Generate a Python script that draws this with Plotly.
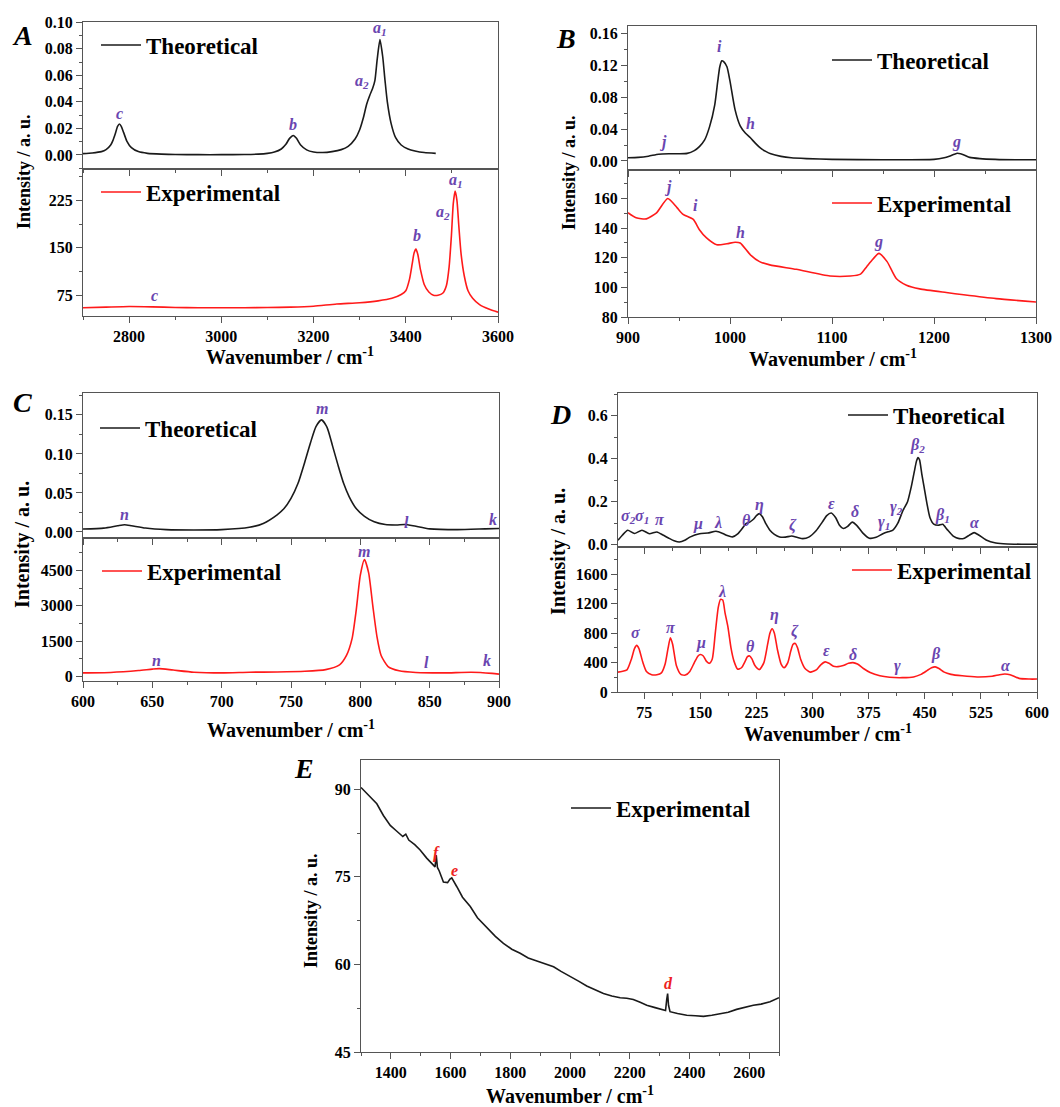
import plotly.graph_objects as go

# ---------------- DATA ----------------
A_theo_x = [2700, 2720, 2740, 2750, 2760, 2765, 2770, 2775, 2779, 2783, 2788, 2795, 2805, 2820, 2840, 2870, 2900, 2950, 3000,
            3050, 3080, 3100, 3115, 3130, 3140, 3148, 3156, 3163, 3172, 3185, 3200, 3220, 3240, 3260, 3275, 3290, 3300,
            3308, 3315, 3322, 3328, 3333, 3338, 3344, 3350, 3355, 3360, 3368, 3378, 3390, 3405, 3420, 3440, 3465]
A_theo_y = [0.001, 0.0015, 0.0025, 0.004, 0.0075, 0.011, 0.016, 0.0215, 0.0233, 0.0215, 0.017, 0.0105, 0.0055, 0.0025,
            0.0012, 0.0006, 0.0003, 0.0002, 0.0002, 0.0003, 0.0006, 0.0012, 0.0022, 0.0045, 0.008, 0.0125, 0.0147, 0.0125,
            0.0075, 0.0038, 0.0022, 0.0018, 0.0025, 0.004, 0.0065, 0.012, 0.019, 0.028, 0.038, 0.045, 0.05, 0.056, 0.072,
            0.0869, 0.074, 0.056, 0.04, 0.024, 0.013, 0.0075, 0.0045, 0.003, 0.0018, 0.0012]
A_exp_x = [2700, 2750, 2800, 2850, 2900, 2950, 3000, 3050, 3100, 3150, 3200, 3250, 3300, 3340, 3370, 3390, 3400, 3408, 3414,
           3418, 3422, 3426, 3432, 3440, 3450, 3460, 3470, 3480, 3488, 3494, 3499, 3503, 3507, 3511, 3515, 3520, 3527,
           3535, 3545, 3560, 3580, 3600]
A_exp_y = [55, 56, 57, 56.5, 55.5, 55, 55, 55, 55.5, 56, 57.5, 61, 63, 66, 70, 76, 82, 100, 125, 142, 148, 140, 115, 92, 80,
           75, 75, 78, 90, 120, 170, 220, 240, 225, 185, 140, 105, 82, 70, 60, 53, 48]
A_theo_lab = ["c", "b", "a<sub>2</sub>", "a<sub>1</sub>"]
A_theo_lab_x = [2779, 3156, 3304, 3344]
A_theo_lab_y = [0.031, 0.0228, 0.0557, 0.095]
A_exp_lab = ["c", "b", "a<sub>2</sub>", "a<sub>1</sub>"]
A_exp_lab_x = [2856, 3424, 3481, 3509]
A_exp_lab_y = [74, 169.6, 206.8, 257]

B_theo_x = [900, 910, 920, 930, 940, 950, 958, 965, 970, 975, 980, 985, 988, 990, 992, 994, 997, 1000, 1005, 1010, 1015,
            1020, 1025, 1030, 1035, 1040, 1050, 1060, 1075, 1100, 1150, 1200, 1210, 1215, 1220, 1223, 1226, 1230, 1235,
            1245, 1260, 1280, 1300]
B_theo_y = [0.004, 0.0045, 0.006, 0.0085, 0.009, 0.009, 0.0095, 0.013, 0.018, 0.026, 0.043, 0.07, 0.1, 0.118, 0.1255,
            0.124, 0.118, 0.1, 0.064, 0.044, 0.035, 0.029, 0.022, 0.016, 0.012, 0.009, 0.0058, 0.004, 0.003, 0.002,
            0.0015, 0.002, 0.004, 0.006, 0.0085, 0.0096, 0.009, 0.0072, 0.0045, 0.003, 0.002, 0.0015, 0.0015]
B_exp_x = [900, 908, 918, 928, 939, 948, 954, 964, 970, 977, 987, 997, 1005, 1010, 1020, 1029, 1039, 1065, 1098, 1118,
           1128, 1134, 1140, 1146, 1154, 1163, 1173, 1186, 1212, 1229, 1261, 1300]
B_exp_y = [150.4, 147, 146.3, 150.4, 160, 153.9, 149.3, 145.9, 139, 133.4, 128.8, 129.5, 130.5, 130, 122, 117.4, 115.2,
           112.2, 107.7, 107.7, 109, 114, 119, 123, 117.4, 106, 101.5, 99, 96.5, 95, 92.4, 90.1]
B_theo_lab = ["j", "i", "h", "g"]
B_theo_lab_x = [934.6, 990, 1020, 1221.6]
B_theo_lab_y = [0.0242, 0.143, 0.047, 0.024]
B_exp_lab = ["j", "i", "h", "g"]
B_exp_lab_x = [938.9, 966, 1010, 1146]
B_exp_lab_y = [167.5, 155, 136.8, 131]

C_theo_x = [600, 615, 625, 630, 635, 645, 660, 680, 700, 720, 730, 740, 745, 750, 755, 760, 764, 768, 772, 776, 780, 784,
            788, 792, 797, 803, 810, 818, 826, 832, 838, 850, 870, 890, 900]
C_theo_y = [0.0038, 0.005, 0.008, 0.0093, 0.008, 0.005, 0.003, 0.0025, 0.003, 0.006, 0.011, 0.022, 0.03, 0.043, 0.062,
            0.09, 0.114, 0.135, 0.1436, 0.134, 0.11, 0.085, 0.062, 0.045, 0.03, 0.02, 0.013, 0.0095, 0.009, 0.0095,
            0.008, 0.004, 0.003, 0.004, 0.0045]
C_exp_x = [600, 620, 640, 650, 655, 665, 680, 700, 720, 740, 760, 775, 785, 790, 794, 797, 800, 803, 806, 809, 812, 815,
           820, 828, 840, 860, 880, 895, 900]
C_exp_y = [160, 180, 260, 320, 340, 280, 190, 160, 190, 200, 230, 300, 500, 900, 1600, 2800, 4300, 4960, 4400, 3000,
           1700, 900, 430, 250, 180, 160, 190, 140, 110]
C_theo_lab = ["n", "m", "l", "k"]
C_theo_lab_x = [630, 772, 833.5, 895.5]
C_theo_lab_y = [0.022, 0.158, 0.0123, 0.0166]
C_exp_lab = ["n", "m", "l", "k"]
C_exp_lab_x = [653, 803, 847.7, 891]
C_exp_lab_y = [667, 5313, 595, 667]

D_theo_x = [40, 46, 53, 62, 72, 82, 92, 100, 109, 115, 122, 130, 136, 149, 160, 171, 180, 186, 193, 200, 206, 211, 216,
            221, 225, 229, 233, 238, 243, 249, 256, 264, 272, 280, 287, 295, 305, 313, 319, 325, 331, 336, 341, 347, 353,
            359, 367, 376, 385, 394, 401, 407, 414, 421, 427, 432, 436, 439, 441, 443, 446, 449, 453, 457, 462, 468, 474,
            480, 488, 496, 503, 510, 516, 522, 532, 545, 560, 580, 600]
D_theo_y = [0.02, 0.045, 0.067, 0.052, 0.067, 0.051, 0.059, 0.045, 0.028, 0.018, 0.012, 0.022, 0.035, 0.051, 0.054, 0.062,
            0.052, 0.042, 0.036, 0.05, 0.075, 0.098, 0.105, 0.118, 0.135, 0.1445, 0.13, 0.095, 0.067, 0.048, 0.036, 0.035,
            0.04, 0.033, 0.028, 0.035, 0.066, 0.105, 0.135, 0.147, 0.125, 0.09, 0.075, 0.085, 0.105, 0.09, 0.055, 0.03,
            0.034, 0.051, 0.06, 0.066, 0.1, 0.16, 0.2, 0.27, 0.34, 0.39, 0.406, 0.395, 0.33, 0.27, 0.19, 0.125, 0.095,
            0.09, 0.0946, 0.07, 0.04, 0.028, 0.03, 0.045, 0.056, 0.045, 0.022, 0.008, 0.003, 0.002, 0.002]
D_exp_x = [40, 45, 52, 58, 62, 65, 68, 73, 78, 85, 92, 98, 103, 107, 110, 113, 118, 124, 130, 136, 142, 147, 150, 154, 158,
           162, 166, 170, 174, 177, 180, 183, 187, 191, 195, 200, 205, 210, 213, 216, 219, 223, 229, 235, 240, 243, 246,
           249, 253, 258, 262, 267, 271, 274, 277, 280, 284, 290, 297, 305, 311, 317, 322, 328, 334, 341, 348, 354, 360,
           368, 377, 390, 403, 420, 435, 445, 453, 459, 464, 469, 476, 485, 500, 520, 540, 550, 557, 564, 576, 590, 600]
D_exp_y = [270, 280, 300, 450, 590, 634, 590, 410, 280, 235, 235, 260, 380, 600, 738, 650, 360, 240, 230, 280, 400, 490,
           510, 490, 420, 390, 450, 800, 1150, 1260, 1250, 1080, 880, 600, 420, 310, 330, 420, 480, 490, 450, 360, 305,
           400, 650, 800, 860, 800, 580, 380, 330, 400, 560, 650, 660, 600, 450, 320, 270, 300, 370, 410, 390, 350, 345,
           360, 390, 400, 380, 320, 265, 220, 200, 195, 205, 240, 290, 330, 342, 320, 270, 240, 220, 205, 215, 235, 244,
           235, 185, 176, 176]
D_theo_lab = ["σ<sub>2</sub>", "σ<sub>1</sub>", "π", "μ", "λ", "θ", "η", "ζ", "ε", "δ", "γ<sub>1</sub>", "γ<sub>2</sub>",
              "β<sub>2</sub>", "β<sub>1</sub>", "α"]
D_theo_lab_x = [53.4, 72, 95.7, 146.9, 173.6, 211.5, 229.3, 273.8, 325, 356.2, 395.3, 411.9, 440.7, 474.2, 516.5]
D_theo_lab_y = [0.129, 0.129, 0.117, 0.095, 0.105, 0.113, 0.183, 0.09, 0.191, 0.152, 0.105, 0.175, 0.463, 0.137, 0.105]
D_exp_lab = ["σ", "π", "μ", "λ", "θ", "η", "ζ", "ε", "δ", "γ", "β", "α"]
D_exp_lab_x = [63.6, 111, 151, 179.5, 217, 249, 277, 318, 354, 414, 464.4, 558]
D_exp_lab_y = [805, 881, 671, 1366, 625, 1052, 827, 558, 513, 356, 513, 356]

E_x = [1300, 1325, 1353, 1375, 1398, 1420, 1440, 1450, 1460, 1480, 1498, 1520, 1540, 1548, 1552, 1556, 1562, 1576, 1590,
       1598, 1604, 1610, 1621, 1640, 1666, 1690, 1722, 1750, 1777, 1805, 1833, 1860, 1889, 1915, 1945, 1970, 2000, 2030,
       2056, 2085, 2112, 2140, 2168, 2190, 2212, 2235, 2257, 2285, 2313, 2320, 2324, 2327, 2330, 2335, 2360, 2391, 2420,
       2447, 2475, 2502, 2530, 2558, 2585, 2614, 2640, 2670, 2700]
E_y = [90.3, 89.0, 87.5, 85.5, 83.8, 82.8, 81.9, 82.3, 81.3, 80.5, 79.6, 78.2, 77.1, 76.7, 78.7, 76.6, 76.0, 74.1, 74.0,
       74.6, 74.8, 74.3, 73.3, 71.5, 69.9, 68.0, 66.2, 64.8, 63.6, 62.6, 61.9, 61.1, 60.6, 60.1, 59.6, 58.8, 58.0, 57.1,
       56.3, 55.6, 55.0, 54.6, 54.3, 54.2, 54.0, 53.5, 53.0, 52.6, 52.2, 52.1, 54.0, 55.0, 53.0, 51.9, 51.6, 51.3, 51.2,
       51.1, 51.3, 51.6, 51.8, 52.3, 52.7, 53.0, 53.2, 53.6, 54.3]
E_lab = ["f", "e", "d"]
E_lab_x = [1554, 1613, 2329]
E_lab_y = [79, 76.1, 56.7]

# ---------------- LAYOUT HELPERS ----------------
W, H = 1060, 1107
FONT = "Liberation Serif, Times New Roman, serif"
PURPLE = "#6a45b0"
RED = "#ff1a1a"
BLACK = "#1a1a1a"
FRAME = "#555555"


def px(xp):
    return xp / W


def py(yp):
    return 1 - yp / H


fig = go.Figure()

# subplot definitions: (xdomain px, ydomain px, xrange, yrange, xdtick, xtick0, ydtick, ytick0, ytickformat, show x labels)
subs = [
    ((83, 498), (22, 169), [2700, 3600], [-0.0106, 0.1002], 200, 2800, 0.02, 0, ".2f", False),
    ((83, 498), (169, 316), [2700, 3600], [42, 275], 200, 2800, 75, 75, None, True),
    ((628, 1036), (26, 170), [900, 1300], [-0.0113, 0.169], 100, 900, 0.04, 0, ".2f", False),
    ((628, 1036), (170, 317), [900, 1300], [80, 179.3], 100, 900, 20, 80, None, True),
    ((83, 499), (393, 538), [600, 900], [-0.0077, 0.178], 50, 600, 0.05, 0, ".2f", False),
    ((83, 499), (538, 681), [600, 900], [-183, 5877], 50, 600, 1500, 0, None, True),
    ((618, 1037), (393, 547), [40, 600], [-0.011, 0.706], 75, 75, 0.2, 0, ".1f", False),
    ((618, 1037), (547, 692), [40, 600], [0, 1972], 75, 75, 400, 0, None, True),
    ((361, 779), (760, 1052), [1300, 2700], [45, 95], 200, 1400, 15, 45, None, True),
]

layout = dict(width=W, height=H, margin=dict(l=0, r=0, t=0, b=0, pad=0, autoexpand=False),
              paper_bgcolor="white", plot_bgcolor="white", annotations=[],
              font=dict(family=FONT, color="black"))

for i, (xd, yd, xr, yr, xdt, xt0, ydt, yt0, yfmt, showx) in enumerate(subs, start=1):
    sfx = "" if i == 1 else str(i)
    layout["xaxis" + sfx] = dict(
        domain=[px(xd[0]), px(xd[1])], range=xr, anchor="y" + sfx, showline=True, mirror=True,
        linecolor=FRAME, linewidth=1.2, ticks="outside", ticklen=6, tickcolor=FRAME, tickwidth=1.2,
        tick0=xt0, dtick=xdt, showticklabels=showx, showgrid=False, zeroline=False, automargin=False,
        tickfont=dict(family=FONT, size=16, weight="bold", color="black"),
        minor=dict(ticks="outside", ticklen=3, dtick=xdt / 2, tick0=xt0, tickcolor=FRAME, showgrid=False),
    )
    layout["yaxis" + sfx] = dict(
        domain=[py(yd[1]), py(yd[0])], range=yr, anchor="x" + sfx, showline=True, mirror=True,
        linecolor=FRAME, linewidth=1.2, ticks="outside", ticklen=6, tickcolor=FRAME, tickwidth=1.2,
        tick0=yt0, dtick=ydt, showgrid=False, zeroline=False, tickformat=yfmt, automargin=False,
        tickfont=dict(family=FONT, size=16, weight="bold", color="black"),
        minor=dict(ticks="outside", ticklen=3, dtick=ydt / 2, tick0=yt0, tickcolor=FRAME, showgrid=False),
    )

series = [
    (A_theo_x, A_theo_y, BLACK, "Theoretical", "spline"),
    (A_exp_x, A_exp_y, RED, "Experimental", "spline"),
    (B_theo_x, B_theo_y, BLACK, "Theoretical", "spline"),
    (B_exp_x, B_exp_y, RED, "Experimental", "spline"),
    (C_theo_x, C_theo_y, BLACK, "Theoretical", "spline"),
    (C_exp_x, C_exp_y, RED, "Experimental", "spline"),
    (D_theo_x, D_theo_y, BLACK, "Theoretical", "spline"),
    (D_exp_x, D_exp_y, RED, "Experimental", "spline"),
    (E_x, E_y, BLACK, "Experimental", "linear"),
]

# legend anchor positions (px of legend box left, center y px)
leg_pos = [(96, 45), (96, 192), (827, 60), (827, 203), (95, 428), (97, 571), (843, 415), (847, 570), (566, 808)]

for i, (xs, ys, col, name, shape) in enumerate(series, start=1):
    sfx = "" if i == 1 else str(i)
    lg = "legend" if i == 1 else "legend" + str(i)
    line = dict(color=col, width=1.6, shape=shape)
    if shape == "spline":
        line["smoothing"] = 0.6
    fig.add_trace(go.Scatter(x=xs, y=ys, mode="lines", line=line, name=name,
                             xaxis="x" + sfx, yaxis="y" + sfx, legend=lg, showlegend=True))
    lx, ly = leg_pos[i - 1]
    layout[lg] = dict(x=px(lx), y=py(ly), xanchor="left", yanchor="middle", bgcolor="rgba(0,0,0,0)",
                      borderwidth=0, itemwidth=40,
                      font=dict(family=FONT, size=23, weight="bold", color="black"))

# peak labels
label_sets = [
    (1, A_theo_lab, A_theo_lab_x, A_theo_lab_y, PURPLE),
    (2, A_exp_lab, A_exp_lab_x, A_exp_lab_y, PURPLE),
    (3, B_theo_lab, B_theo_lab_x, B_theo_lab_y, PURPLE),
    (4, B_exp_lab, B_exp_lab_x, B_exp_lab_y, PURPLE),
    (5, C_theo_lab, C_theo_lab_x, C_theo_lab_y, PURPLE),
    (6, C_exp_lab, C_exp_lab_x, C_exp_lab_y, PURPLE),
    (7, D_theo_lab, D_theo_lab_x, D_theo_lab_y, PURPLE),
    (8, D_exp_lab, D_exp_lab_x, D_exp_lab_y, PURPLE),
    (9, E_lab, E_lab_x, E_lab_y, "#ee2222"),
]
for i, labs, lxs, lys, col in label_sets:
    sfx = "" if i == 1 else str(i)
    for t, xv, yv in zip(labs, lxs, lys):
        layout["annotations"].append(dict(
            text=t, x=xv, y=yv, xref="x" + sfx, yref="y" + sfx, showarrow=False,
            xanchor="center", yanchor="middle",
            font=dict(family=FONT, size=16, color=col, weight="bold", style="italic")))

# panel letters
for t, xl, yl in [("A", 22, 35), ("B", 566, 38), ("C", 22, 402), ("D", 560, 414), ("E", 304, 768)]:
    layout["annotations"].append(dict(
        text=t, x=px(xl), y=py(yl), xref="paper", yref="paper", showarrow=False,
        xanchor="center", yanchor="middle",
        font=dict(family=FONT, size=28, color="black", weight="bold", style="italic")))

# x-axis titles
for xc, yc in [(290, 356), (833, 358), (291, 729), (828, 733), (570, 1095)]:
    layout["annotations"].append(dict(
        text="Wavenumber / cm<sup>-1</sup>", x=px(xc), y=py(yc), xref="paper", yref="paper",
        showarrow=False, xanchor="center", yanchor="middle",
        font=dict(family=FONT, size=20, color="black", weight="bold")))

# y-axis titles
for xc, yc, sz in [(24, 172, 18), (569, 173, 18), (22, 545, 20), (558, 552, 20), (311, 911, 18)]:
    layout["annotations"].append(dict(
        text="Intensity / a. u.", x=px(xc), y=py(yc), xref="paper", yref="paper",
        showarrow=False, xanchor="center", yanchor="middle", textangle=-90,
        font=dict(family=FONT, size=sz, color="black", weight="bold")))

fig.update_layout(**layout)
fig.write_html("out.html", config={"displayModeBar": False},
               post_script="document.body.style.margin='0px';")
